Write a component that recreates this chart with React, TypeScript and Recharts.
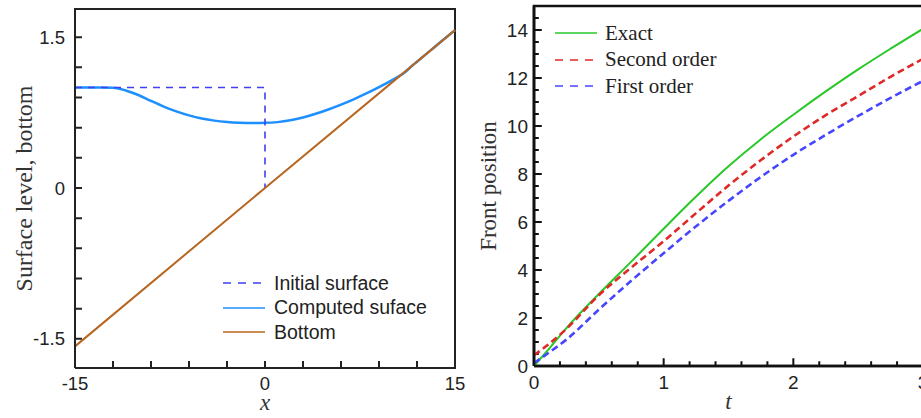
import React from 'react';
import { LineChart, Line, XAxis, YAxis, Legend, Label } from 'recharts';

// ---- left panel: surface level and bottom ----
const surfX = [-15, -14, -13, -12, -11, -10, -9, -8, -7, -6, -5, -4, -3, -2, -1, 0, 1, 2, 3, 4, 5, 6, 7, 8, 9, 10, 11, 11.7, 12, 13, 14, 15];
const surfY = [1.0, 1.0, 1.0, 0.998, 0.97, 0.925, 0.866, 0.81, 0.762, 0.722, 0.691, 0.67, 0.657, 0.65, 0.647, 0.648, 0.655, 0.673, 0.701, 0.738, 0.781, 0.829, 0.882, 0.94, 1.003, 1.071, 1.147, 1.225, 1.256, 1.361, 1.466, 1.57];
const initX = [-15, 0, 0];
const initY = [1, 1, 0];
const bottomX = [-15, 0, 15];
const bottomY = [-1.575, 0, 1.57];

const leftXTicks = [-15, -12, -9, -6, -3, 0, 3, 6, 9, 12, 15];
const leftXLabels = [-15, 0, 15];
const leftYTicks = [-1.5, -1.2, -0.9, -0.6, -0.3, 0, 0.3, 0.6, 0.9, 1.2, 1.5];
const leftYLabels = [-1.5, 0, 1.5];
const leftXDomain = [-15, 15];
const leftYDomain = [-1.79, 1.78];

// ---- right panel: front position vs time ----
const tVals = [0, 0.1, 0.25, 0.5, 0.75, 1, 1.25, 1.5, 1.75, 2, 2.25, 2.5, 2.75, 3];
const exact = [0, 0.62, 1.58, 3.0, 4.35, 5.72, 7.06, 8.32, 9.45, 10.47, 11.44, 12.36, 13.22, 14.05];
const secondOrder = [0.45, 0.85, 1.55, 2.95, 4.1, 5.2, 6.37, 7.52, 8.58, 9.56, 10.45, 11.25, 12.05, 12.8];
const firstOrder = [0.12, 0.5, 1.1, 2.35, 3.55, 4.7, 5.82, 6.88, 7.88, 8.8, 9.63, 10.42, 11.17, 11.88];

const rightXTicks = [0, 0.2, 0.4, 0.6, 0.8, 1, 1.2, 1.4, 1.6, 1.8, 2, 2.2, 2.4, 2.6, 2.8, 3];
const rightXLabels = [0, 1, 2, 3];
const rightYTicks = [0, 0.5, 1, 1.5, 2, 2.5, 3, 3.5, 4, 4.5, 5, 5.5, 6, 6.5, 7, 7.5, 8, 8.5, 9, 9.5, 10, 10.5, 11, 11.5, 12, 12.5, 13, 13.5, 14, 14.5];
const rightYLabels = [0, 2, 4, 6, 8, 10, 12, 14];
const rightXDomain = [0, 3];
const rightYDomain = [0, 15];

const zip = (xs: number[], ys: number[]) => xs.map((x, i) => ({ x, y: ys[i] }));

const SANS = '"Liberation Sans", Arial, sans-serif';
const SERIF = '"Liberation Serif", "Times New Roman", serif';

// legend sample styles, keyed by series name
const legendDash: Record<string, string | undefined> = {
  'Initial surface': '8 7',
  'Second order': '8 7',
  'First order': '8 7',
};

function makeLegend(order: string[], rowH: number, font: string, size: number, gap: number) {
  return (props: any) => {
    const items = (props.payload || [])
      .filter((a: any) => order.includes(a.value))
      .sort((a: any, b: any) => order.indexOf(a.value) - order.indexOf(b.value));
    return (
      <div>
        {items.map((p: any) => (
          <div key={p.value} style={{ display: 'flex', alignItems: 'center', height: rowH }}>
            <svg width={42} height={6} style={{ display: 'block' }}>
              <line x1={0} y1={3} x2={42} y2={3} stroke={p.color} strokeWidth={1.6} strokeDasharray={legendDash[p.value]} />
            </svg>
            <span style={{ marginLeft: gap, fontFamily: font, fontSize: size, color: '#222', lineHeight: 1, whiteSpace: 'nowrap' }}>
              {p.value}
            </span>
          </div>
        ))}
      </div>
    );
  };
}

// tick label only; the marks themselves are drawn inside the frame
function tickLabel(side: 'left' | 'bottom', labels: number[], size: number) {
  return (p: any) => {
    const v = p.payload.value;
    if (!labels.includes(v)) return <g />;
    return side === 'left' ? (
      <text x={p.x} y={p.y} dy="0.36em" textAnchor="end" fill="#222" fontSize={size} fontFamily={SANS}>{String(v)}</text>
    ) : (
      <text x={p.x} y={p.y} dy="0.72em" textAnchor="middle" fill="#222" fontSize={size} fontFamily={SANS}>{String(v)}</text>
    );
  };
}

// Tecplot-like frame + inward tick marks, as broken polylines (null = pen up)
function framePts(xd: number[], yd: number[]) {
  return [
    { x: xd[0], y: yd[0] }, { x: xd[1], y: yd[0] }, { x: xd[1], y: yd[1] },
    { x: xd[0], y: yd[1] }, { x: xd[0], y: yd[0] },
  ];
}
function markPts(xt: number[], xl: number[], yt: number[], yl: number[], xd: number[], yd: number[], lenY: number[], lenX: number[]) {
  const pts: { x: number; y: number | null }[] = [];
  xt.forEach((v) => {
    const l = xl.includes(v) ? lenY[0] : lenY[1];
    pts.push({ x: v, y: yd[0] }, { x: v, y: yd[0] + l }, { x: v, y: null });
  });
  yt.forEach((v) => {
    const l = yl.includes(v) ? lenX[0] : lenX[1];
    pts.push({ x: xd[0], y: v }, { x: xd[0] + l, y: v }, { x: xd[0] + l, y: null });
  });
  return pts;
}

function SurfaceChart() {
  const frame = { stroke: '#222', strokeWidth: 2 };
  return (
    <LineChart width={470} height={418} margin={{ top: 9, right: 15, bottom: 0, left: 0 }}>
      <XAxis
        type="number"
        dataKey="x"
        domain={leftXDomain}
        ticks={leftXTicks}
        interval={0}
        height={50}
        tickSize={0}
        tickMargin={9}
        tickLine={false}
        tick={tickLabel('bottom', leftXLabels, 18.5)}
        axisLine={frame}
      >
        <Label value="x" position="center" dy={9} style={{ fontFamily: SERIF, fontStyle: 'italic', fontSize: 23, fill: '#333' }} />
      </XAxis>
      <YAxis
        type="number"
        domain={leftYDomain}
        ticks={leftYTicks}
        interval={0}
        width={75}
        tickSize={0}
        tickMargin={10}
        tickLine={false}
        tick={tickLabel('left', leftYLabels, 18.5)}
        axisLine={frame}
      >
        <Label value="Surface level, bottom" position="center" angle={-90} dx={-14} style={{ fontFamily: SERIF, fontSize: 24, fill: '#333' }} />
      </YAxis>
      <Line data={framePts(leftXDomain, leftYDomain)} dataKey="y" name="frame" type="linear" stroke="#222" strokeWidth={2} dot={false} activeDot={false} legendType="none" isAnimationActive={false} />
      <Line data={markPts(leftXTicks, leftXLabels, leftYTicks, leftYLabels, leftXDomain, leftYDomain, [0.07, 0.07], [0.55, 0.55])} dataKey="y" name="marks" type="linear" stroke="#222" strokeWidth={2} dot={false} activeDot={false} legendType="none" isAnimationActive={false} />
      <Line data={zip(surfX, surfY)} dataKey="y" name="Computed suface" type="monotone" stroke="#1e8fff" strokeWidth={2.5} dot={false} activeDot={false} isAnimationActive={false} />
      <Line data={zip(initX, initY)} dataKey="y" name="Initial surface" type="linear" stroke="#4040f0" strokeWidth={1.6} strokeDasharray="7 6" dot={false} activeDot={false} isAnimationActive={false} />
      <Line data={zip(bottomX, bottomY)} dataKey="y" name="Bottom" type="linear" stroke="#b8651f" strokeWidth={2} dot={false} activeDot={false} isAnimationActive={false} />
      <Legend
        layout="vertical"
        align="center"
        verticalAlign="middle"
        content={makeLegend(['Initial surface', 'Computed suface', 'Bottom'], 24.5, SANS, 19.5, 9)}
        wrapperStyle={{ left: 223, top: 271, width: 'auto', height: 'auto' }}
      />
    </LineChart>
  );
}

function FrontChart() {
  const frame = { stroke: '#111', strokeWidth: 2.6 };
  return (
    <LineChart width={473} height={418} margin={{ top: 6, right: 10, bottom: 0, left: 0 }}>
      <XAxis
        type="number"
        dataKey="x"
        domain={rightXDomain}
        ticks={rightXTicks}
        interval={0}
        height={52}
        tickSize={0}
        tickMargin={9}
        tickLine={false}
        tick={tickLabel('bottom', rightXLabels, 19)}
        axisLine={frame}
      >
        <Label value="t" position="center" dy={9} style={{ fontFamily: SERIF, fontStyle: 'italic', fontSize: 23, fill: '#333' }} />
      </XAxis>
      <YAxis
        type="number"
        domain={rightYDomain}
        ticks={rightYTicks}
        interval={0}
        width={74}
        tickSize={0}
        tickMargin={6}
        tickLine={false}
        tick={tickLabel('left', rightYLabels, 19)}
        axisLine={frame}
      >
        <Label value="Front position" position="center" angle={-90} dx={-9} style={{ fontFamily: SERIF, fontSize: 23, fill: '#333' }} />
      </YAxis>
      <Line data={framePts(rightXDomain, rightYDomain)} dataKey="y" name="frame" type="linear" stroke="#111" strokeWidth={2.6} dot={false} activeDot={false} legendType="none" isAnimationActive={false} />
      <Line data={markPts(rightXTicks, rightXLabels, rightYTicks, rightYLabels, rightXDomain, rightYDomain, [0.32, 0.2], [0.06, 0.037])} dataKey="y" name="marks" type="linear" stroke="#111" strokeWidth={2} dot={false} activeDot={false} legendType="none" isAnimationActive={false} />
      <Line data={zip(tVals, exact)} dataKey="y" name="Exact" type="monotone" stroke="#28c828" strokeWidth={2} dot={false} activeDot={false} isAnimationActive={false} />
      <Line data={zip(tVals, secondOrder)} dataKey="y" name="Second order" type="monotone" stroke="#e02828" strokeWidth={2.6} strokeDasharray="7 4" dot={false} activeDot={false} isAnimationActive={false} />
      <Line data={zip(tVals, firstOrder)} dataKey="y" name="First order" type="monotone" stroke="#4646ff" strokeWidth={2.6} strokeDasharray="7 4" dot={false} activeDot={false} isAnimationActive={false} />
      <Legend
        layout="vertical"
        align="center"
        verticalAlign="middle"
        content={makeLegend(['Exact', 'Second order', 'First order'], 26.5, SERIF, 21, 8)}
        wrapperStyle={{ left: 95, top: 20, width: 'auto', height: 'auto' }}
      />
    </LineChart>
  );
}

export default function App() {
  return (
    <div style={{ position: 'absolute', left: 0, top: 0, width: 921, height: 418, overflow: 'hidden', background: '#fff' }}>
      <div style={{ position: 'absolute', left: 0, top: 0 }}>
        <SurfaceChart />
      </div>
      <div style={{ position: 'absolute', left: 460, top: 0 }}>
        <FrontChart />
      </div>
    </div>
  );
}
